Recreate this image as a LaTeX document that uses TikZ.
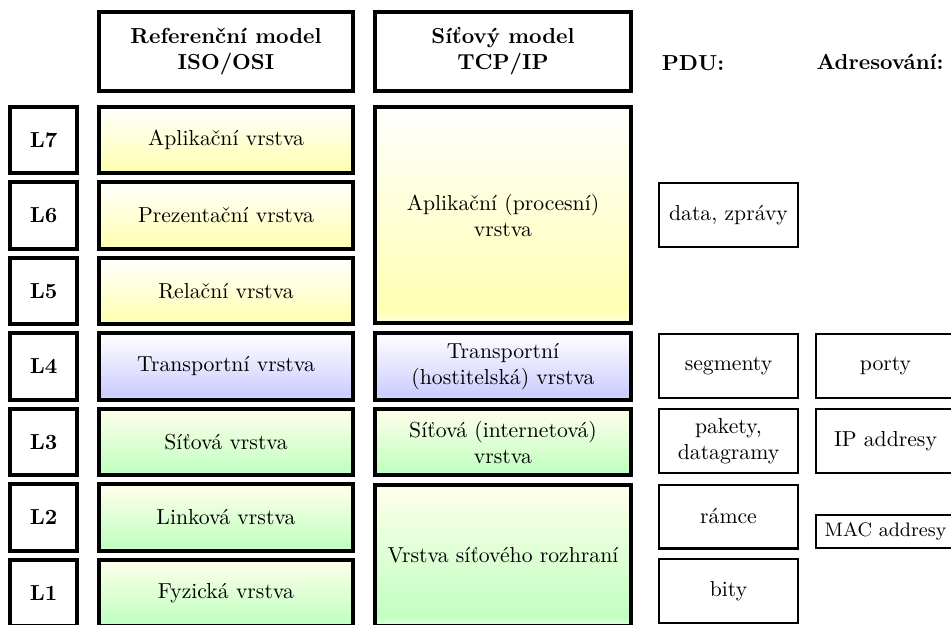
\documentclass[tikz,border=0pt]{standalone}
\usepackage{tikz}
\newcommand\pxu{0.4608pt}
\pgfdeclareverticalshading{yelsh}{100bp}{color(0bp)=(yellow!10); color(25bp)=(yellow!10); color(28bp)=(yellow!30); color(75bp)=(white); color(100bp)=(white)}
\pgfdeclareverticalshading{blush}{100bp}{color(0bp)=(blue!10); color(25bp)=(blue!10); color(28bp)=(blue!20); color(75bp)=(white); color(100bp)=(white)}
\pgfdeclareverticalshading{grnsh}{100bp}{color(0bp)=(green!10); color(25bp)=(green!10); color(28bp)=(green!24); color(75bp)=(yellow!8); color(100bp)=(yellow!8)}
\tikzset{
  heavy/.style={draw, line width=1.9pt, rectangle, inner sep=0pt, align=center, fill=white},
  lbox/.style={heavy, font=\bfseries, minimum width=66.9*\pxu, minimum height=66.4*\pxu},
  osibox/.style={heavy, minimum width=253.9*\pxu, minimum height=66.4*\pxu},
  tcpbox/.style={heavy, minimum width=255.9*\pxu},
  yel/.style={shading=yelsh},
  blu/.style={shading=blush},
  grn/.style={shading=grnsh},
  light/.style={draw, line width=1pt, rectangle, inner sep=0pt, align=center, fill=white, minimum width=138.8*\pxu, minimum height=63.8*\pxu},
  headtxt/.style={font=\bfseries, inner sep=0pt}
}
\begin{document}
\begin{tikzpicture}[x=0.4608pt, y=-0.4608pt]
\useasboundingbox (0,0) rectangle (951,624);
\clip (0,0) rectangle (951,624);
% headers
\node[heavy, font=\bfseries, minimum width=253.9*\pxu, minimum height=78.9*\pxu] (hiso) at (226,51.5) {Referenční model\\ISO/OSI};
\node[heavy, font=\bfseries, minimum width=255.9*\pxu, minimum height=78.9*\pxu] (htcp) at (503,51.5) {Síťový model\\TCP/IP};
\node[headtxt] (hpdu) at (693,63) {PDU:};
\node[headtxt] (hadr) at (880,62) {Adresování:};
% L labels
\node[lbox] (l7) at (43.5,140) {L7};
\node[lbox] (l6) at (43.5,215.5) {L6};
\node[lbox] (l5) at (43.5,291) {L5};
\node[lbox] (l4) at (43.5,366.5) {L4};
\node[lbox] (l3) at (43.5,442) {L3};
\node[lbox] (l2) at (43.5,517.5) {L2};
\node[lbox] (l1) at (43.5,593) {L1};
% ISO/OSI
\node[osibox, yel] (o7) at (226,140) {Aplikační vrstva};
\node[osibox, yel] (o6) at (226,215.5) {Prezentační vrstva};
\node[osibox, yel] (o5) at (226,291) {Relační vrstva};
\node[osibox, blu] (o4) at (226,366.5) {Transportní vrstva};
\node[osibox, grn] (o3) at (226,442) {Síťová vrstva};
\node[osibox, grn] (o2) at (226,517.5) {Linková vrstva};
\node[osibox, grn] (o1) at (226,593) {Fyzická vrstva};
% TCP/IP
\node[tcpbox, yel, minimum height=215.9*\pxu] (tapp) at (503,215) {Aplikační (procesní)\\vrstva};
\node[tcpbox, blu, minimum height=66.4*\pxu] (ttra) at (503,366.5) {Transportní\\(hostitelská) vrstva};
\node[tcpbox, grn, minimum height=66.4*\pxu] (tnet) at (503,442) {Síťová (internetová)\\vrstva};
\node[tcpbox, grn, minimum height=140.9*\pxu] (tlink) at (503,555.5) {Vrstva síťového rozhraní};
% PDU
\node[light] (pdata) at (728.5,215) {data, zprávy};
\node[light] (pseg) at (728.5,366) {segmenty};
\node[light] (ppak) at (728.5,441) {pakety,\\datagramy};
\node[light] (pram) at (728.5,516.5) {rámce};
\node[light] (pbit) at (728.5,591) {bity};
% addressing
\node[light] (aport) at (885.5,366) {porty};
\node[light] (aip) at (885.5,441) {IP addresy};
\node[light, font=\small, minimum height=32.8*\pxu] (amac) at (885.5,531.5) {MAC addresy};
\end{tikzpicture}
\end{document}
